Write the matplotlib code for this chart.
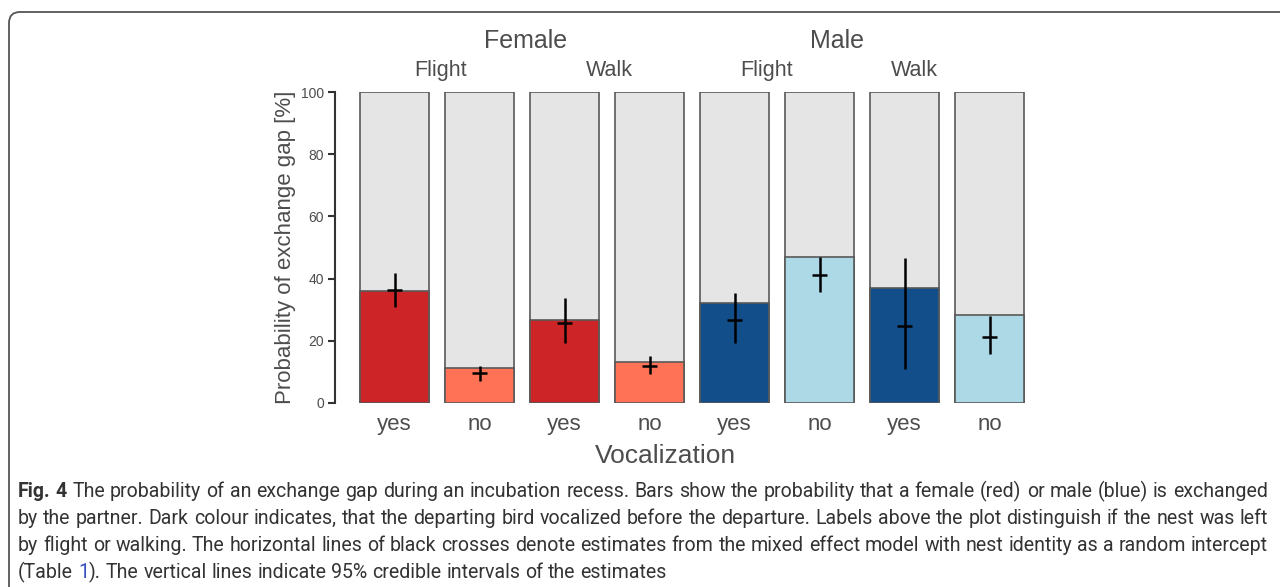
import matplotlib
matplotlib.use("Agg")
import matplotlib.pyplot as plt
import matplotlib.patches as patches
from matplotlib.transforms import IdentityTransform
import numpy as np

# データ
sex_groups = ["Female", "Male"]
mode_labels = ["Flight", "Walk", "Flight", "Walk"]
vocal_labels = ["yes", "no", "yes", "no", "yes", "no", "yes", "no"]
observed = [35.9, 11.4, 26.7, 13.3, 32.0, 46.8, 37.0, 28.3]
estimate = [36.3, 9.5, 25.6, 11.9, 26.7, 41.2, 24.9, 21.3]
ci_low = [31.0, 7.1, 19.2, 9.3, 19.4, 35.6, 10.9, 15.7]
ci_high = [41.7, 12.0, 33.9, 15.2, 35.3, 46.8, 46.7, 28.0]
bar_colors = ["#CD2428", "#FF7256", "#CD2428", "#FF7256",
              "#124E89", "#ADD8E6", "#124E89", "#ADD8E6"]

W, H = 1280, 587
fig = plt.figure(figsize=(W / 100, H / 100), dpi=100)
plt.rcParams["font.family"] = ["Liberation Sans", "DejaVu Sans"]
txt_col = "#4D4D4D"

# 外枠
fig.patches.append(
    patches.FancyBboxPatch(
        (9, -30), W + 40, H - 12 + 30,
        boxstyle="round,pad=0,rounding_size=11",
        transform=IdentityTransform(), fill=False,
        edgecolor="#555555", linewidth=1.3,
    )
)

# 軸の配置 (ピクセルで指定)
x0, x1 = 335, 1049
y_top, y_bot = 92, 403
ax = fig.add_axes([x0 / W, (H - y_bot) / H, (x1 - x0) / W, (y_bot - y_top) / H])

x = np.arange(len(observed))
ax.bar(x, 100, width=0.82, color="#E5E5E5", edgecolor="#595959", linewidth=1.2)
ax.bar(x, observed, width=0.82, color=bar_colors, edgecolor="#595959", linewidth=1.2)

# 推定値と信用区間 (十字)
for xi, est, lo, hi in zip(x, estimate, ci_low, ci_high):
    ax.plot([xi, xi], [lo, hi], color="black", linewidth=1.8, solid_capstyle="butt")
    ax.plot([xi - 0.085, xi + 0.085], [est, est], color="black", linewidth=1.8,
            solid_capstyle="butt")

ax.set_xlim(-0.7, 7.7)
ax.set_ylim(0, 100)
ax.set_xticks(x)
ax.set_xticklabels(vocal_labels, fontsize=16, color=txt_col)
ax.set_yticks([0, 20, 40, 60, 80, 100])
ax.tick_params(axis="x", length=0, pad=8)
ax.tick_params(axis="y", length=5, width=1.5, color="#333333", labelsize=10,
               labelcolor=txt_col, pad=3)
for side in ["top", "right", "bottom"]:
    ax.spines[side].set_visible(False)
ax.spines["left"].set_linewidth(1.5)
ax.spines["left"].set_color("#333333")
ax.patch.set_visible(False)

# 上部ラベル
for xs, lab in zip([1.54, 5.2], sex_groups):
    ax.text(xs, 116.5, lab, ha="center", va="center", fontsize=18,
            color=txt_col, clip_on=False)
for xs, lab in zip([0.54, 2.53, 4.38, 6.12], mode_labels):
    ax.text(xs, 107, lab, ha="center", va="center", fontsize=15.5,
            color=txt_col, clip_on=False)

fig.text(285, H - 247, "Probability of exchange gap [%]", rotation=90,
         ha="center", va="center", fontsize=16, color=txt_col,
         transform=IdentityTransform())
fig.text(665, H - 456, "Vocalization", ha="center", va="center", fontsize=19,
         color=txt_col, transform=IdentityTransform())

# キャプション
cap_font = ["Roboto", "DejaVu Sans"]
cap_col = "#333333"
cap_lines = [
    ([("Fig. 4 ", "bold", cap_col),
      ("The probability of an exchange gap during an incubation recess. Bars show the "
       "probability that a female (red) or male (blue) is exchanged", "normal", cap_col)], True),
    ([("by the partner. Dark colour indicates, that the departing bird vocalized before "
       "the departure. Labels above the plot distinguish if the nest was left", "normal", cap_col)], True),
    ([("by flight or walking. The horizontal lines of black crosses denote estimates from "
       "the mixed effect model with nest identity as a random intercept", "normal", cap_col)], True),
    ([("(Table ", "normal", cap_col), ("1", "normal", "#3A4FC2"),
      ("). The vertical lines indicate 95% credible intervals of the estimates", "normal", cap_col)], False),
]
line_base = [497, 524, 551, 578]
left, right = 18, 1268

renderer = fig.canvas.get_renderer()


def split_words(runs):
    words = []
    for i, (s, wt, col) in enumerate(runs):
        parts = s.split(" ")
        for j, p in enumerate(parts):
            if p == "":
                continue
            glue = j == 0 and i > 0 and not runs[i - 1][0].endswith(" ")
            words.append((p, wt, col, glue))
    return words


def measure(p, wt, size):
    t = fig.text(0, 0, p, fontsize=size, family=cap_font, weight=wt)
    w = t.get_window_extent(renderer).width
    t.remove()
    return w


def natural_width(words, size):
    sp = measure("a a", "normal", size) - measure("aa", "normal", size)
    tot = sum(measure(p, wt, size) for p, wt, c, g in words)
    return tot + sp * sum(1 for w in words[1:] if not w[3])


# 一番長い行が幅に収まるように文字サイズを決める
size0 = 13.0
widest = max(natural_width(split_words(r), size0) for r, j in cap_lines)
cap_size = size0 * (right - left - 4) / widest
space_w = measure("a a", "normal", cap_size) - measure("aa", "normal", cap_size)

for (runs, justify), yb in zip(cap_lines, line_base):
    words = split_words(runs)
    objs = []
    for p, wt, col, glue in words:
        t = fig.text(0, H - yb, p, fontsize=cap_size, family=cap_font, weight=wt,
                     color=col, va="baseline", ha="left", transform=IdentityTransform())
        objs.append((t, t.get_window_extent(renderer).width, glue))
    n_gaps = sum(1 for o in objs[1:] if not o[2])
    total = sum(o[1] for o in objs)
    gap = space_w
    if justify and n_gaps:
        gap = (right - left - total) / n_gaps
    xp = left
    for k, (t, w, glue) in enumerate(objs):
        if k > 0 and not glue:
            xp += gap
        t.set_position((xp, H - yb))
        xp += w

fig.savefig("out.png", dpi=100)
